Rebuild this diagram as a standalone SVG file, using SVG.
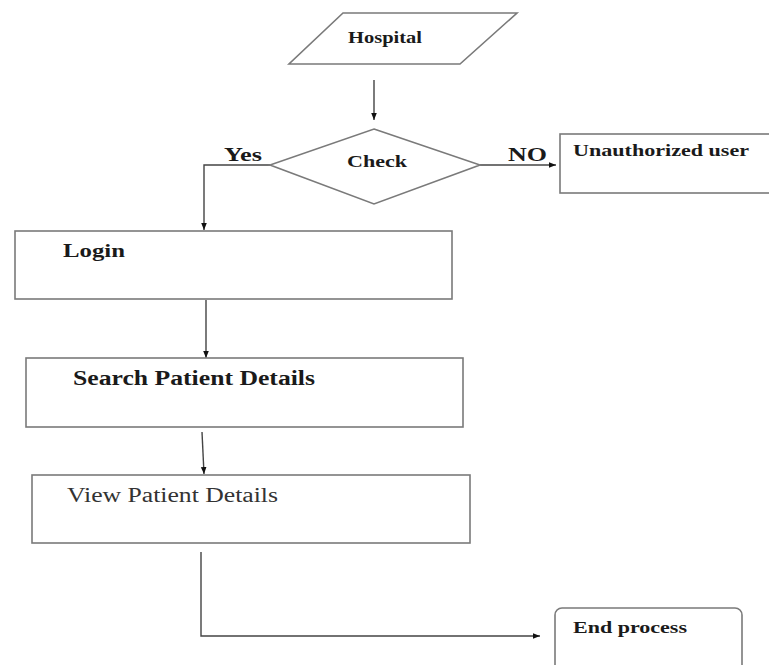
<svg xmlns="http://www.w3.org/2000/svg" width="769" height="665" viewBox="0 0 769 665">
<style>
.box{fill:#fff;stroke:#7a7a7a;stroke-width:1.6}
.ln{fill:none;stroke:#444;stroke-width:1.4}
.t{font-family:"Liberation Serif","Times New Roman",serif;fill:#1a1a1a;font-weight:bold}
.r{font-weight:normal;fill:#333}
</style>
<defs>
<marker id="ah" viewBox="0 0 10 10" refX="10" refY="5" markerWidth="7" markerHeight="7" markerUnits="userSpaceOnUse" orient="auto">
<path d="M0,1 L10,5 L0,9 Z" fill="#111"/>
</marker>
</defs>
<rect width="769" height="665" fill="#fff"/>
<g id="connectors">
<line class="ln" x1="374" y1="80" x2="374" y2="120" marker-end="url(#ah)"/>
<polyline class="ln" points="270,165 204,165 204,230" marker-end="url(#ah)"/>
<line class="ln" x1="480" y1="165" x2="556" y2="165" marker-end="url(#ah)"/>
<line class="ln" x1="206" y1="300" x2="206" y2="358" marker-end="url(#ah)"/>
<line class="ln" x1="202" y1="432" x2="204" y2="474" marker-end="url(#ah)"/>
<polyline class="ln" points="201,552 201,636 540,636" marker-end="url(#ah)"/>
<text class="t" x="224" y="161" font-size="19" textLength="38" lengthAdjust="spacingAndGlyphs">Yes</text>
<text class="t" x="508" y="161" font-size="19" textLength="39" lengthAdjust="spacingAndGlyphs">NO</text>
</g>
<g id="hospital">
<polygon class="box" points="343,13 517,13 460,64 289,64"/>
<text class="t" x="348" y="43" font-size="16.5" textLength="74" lengthAdjust="spacingAndGlyphs">Hospital</text>
</g>
<g id="check">
<polygon class="box" points="374,129 480,165 374,204 270,165"/>
<text class="t" x="347" y="167" font-size="16.5" textLength="60" lengthAdjust="spacingAndGlyphs">Check</text>
</g>
<g id="unauthorized">
<rect class="box" x="560" y="134" width="215" height="59"/>
<text class="t" x="573" y="156" font-size="16.5" textLength="176" lengthAdjust="spacingAndGlyphs">Unauthorized user</text>
</g>
<g id="login">
<rect class="box" x="15" y="231" width="437" height="68"/>
<text class="t" x="63" y="257" font-size="19" textLength="62" lengthAdjust="spacingAndGlyphs">Login</text>
</g>
<g id="search">
<rect class="box" x="26" y="358" width="437" height="69"/>
<text class="t" x="73" y="385" font-size="20" textLength="242" lengthAdjust="spacingAndGlyphs">Search Patient Details</text>
</g>
<g id="view">
<rect class="box" x="32" y="475" width="438" height="68"/>
<text class="t r" x="67" y="502" font-size="20" textLength="211" lengthAdjust="spacingAndGlyphs">View Patient Details</text>
</g>
<g id="end">
<rect class="box" x="555" y="608" width="187" height="80" rx="7"/>
<text class="t" x="573" y="633" font-size="17" textLength="114" lengthAdjust="spacingAndGlyphs">End process</text>
</g>
</svg>
